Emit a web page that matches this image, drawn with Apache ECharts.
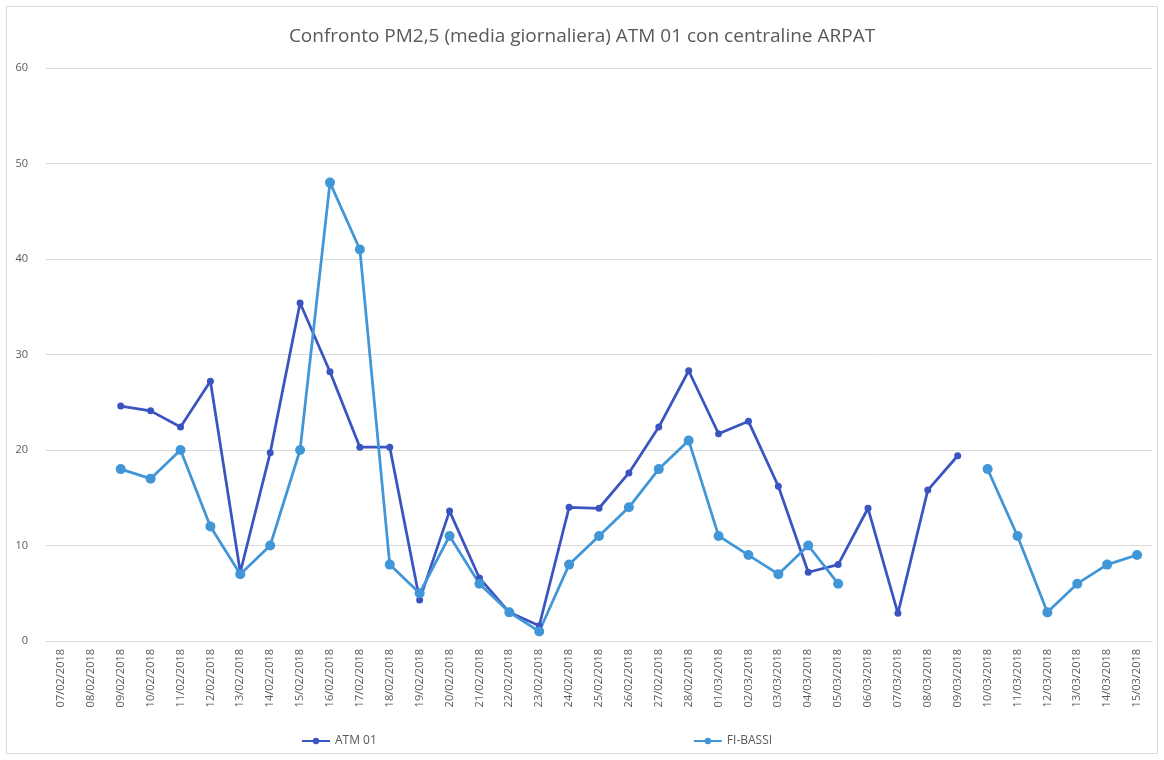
<!DOCTYPE html>
<html>
<head>
<meta charset="utf-8">
<script src="https://cdn.jsdelivr.net/npm/echarts@6/dist/echarts.min.js"></script>
<style>
  html, body { margin: 0; padding: 0; background: #fff; }
  #chart { width: 1164px; height: 760px; }
</style>
</head>
<body>
<div id="chart"></div>
<script>
// Daily dates of the comparison period
const dates = [
  '07/02/2018','08/02/2018','09/02/2018','10/02/2018','11/02/2018','12/02/2018','13/02/2018',
  '14/02/2018','15/02/2018','16/02/2018','17/02/2018','18/02/2018','19/02/2018','20/02/2018',
  '21/02/2018','22/02/2018','23/02/2018','24/02/2018','25/02/2018','26/02/2018','27/02/2018',
  '28/02/2018','01/03/2018','02/03/2018','03/03/2018','04/03/2018','05/03/2018','06/03/2018',
  '07/03/2018','08/03/2018','09/03/2018','10/03/2018','11/03/2018','12/03/2018','13/03/2018',
  '14/03/2018','15/03/2018'
];

// PM2,5 daily mean, ATM 01 station
const atm01 = [
  null, null, 24.6, 24.1, 22.4, 27.2, 7.2,
  19.7, 35.4, 28.2, 20.3, 20.3, 4.3, 13.6,
  6.6, 3.0, 1.6, 14.0, 13.9, 17.6, 22.4,
  28.3, 21.7, 23.0, 16.2, 7.2, 8.0, 13.9,
  2.9, 15.8, 19.4, null, null, null, null,
  null, null
];

// PM2,5 daily mean, ARPAT FI-BASSI station
const fiBassi = [
  null, null, 18, 17, 20, 12, 7,
  10, 20, 48, 41, 8, 5, 11,
  6, 3, 1, 8, 11, 14, 18,
  21, 11, 9, 7, 10, 6, null,
  null, null, null, 18, 11, 3, 6,
  8, 9
];

const chart = echarts.init(document.getElementById('chart'), null, { renderer: 'canvas' });

const textColor = '#595959';
const font = '"Open Sans", "Liberation Sans", sans-serif';

chart.setOption({
  backgroundColor: '#ffffff',
  animation: false,
  title: {
    text: 'Confronto PM2,5 (media giornaliera) ATM 01 con centraline ARPAT',
    left: 'center',
    top: 22,
    textStyle: { color: textColor, fontSize: 19, fontWeight: 'normal', fontFamily: font }
  },
  graphic: [{
    type: 'rect',
    shape: { x: 6.5, y: 6.5, width: 1151, height: 747 },
    style: { fill: 'none', stroke: '#d9d9d9', lineWidth: 1 },
    silent: true
  }],
  legend: {
    bottom: 8,
    left: 296,
    itemGap: 316,
    itemWidth: 28,
    itemHeight: 8,
    textStyle: { color: textColor, fontSize: 12, fontFamily: font },
    data: ['ATM 01', 'FI-BASSI']
  },
  grid: { left: 46, right: 12, top: 68, bottom: 119 },
  xAxis: {
    type: 'category',
    data: dates,
    boundaryGap: true,
    axisLine: { lineStyle: { color: '#d9d9d9' } },
    axisTick: { show: false },
    axisLabel: {
      rotate: 90,
      interval: 0,
      color: textColor,
      fontSize: 11,
      fontFamily: font,
      margin: 8
    }
  },
  yAxis: {
    type: 'value',
    min: 0,
    max: 60,
    interval: 10,
    axisLine: { show: false },
    axisTick: { show: false },
    axisLabel: { color: textColor, fontSize: 11, fontFamily: font, margin: 18 },
    splitLine: { lineStyle: { color: '#d9d9d9', width: 1 } }
  },
  series: [
    {
      name: 'ATM 01',
      type: 'line',
      data: atm01,
      connectNulls: false,
      symbol: 'circle',
      symbolSize: 7,
      color: '#3b55c0',
      lineStyle: { width: 2.75, color: '#3b55c0' },
      itemStyle: { color: '#3b55c0' }
    },
    {
      name: 'FI-BASSI',
      type: 'line',
      data: fiBassi,
      connectNulls: false,
      symbol: 'circle',
      symbolSize: 10,
      color: '#4196d8',
      lineStyle: { width: 2.75, color: '#4196d8' },
      itemStyle: { color: '#4196d8' }
    }
  ]
});
</script>
</body>
</html>
